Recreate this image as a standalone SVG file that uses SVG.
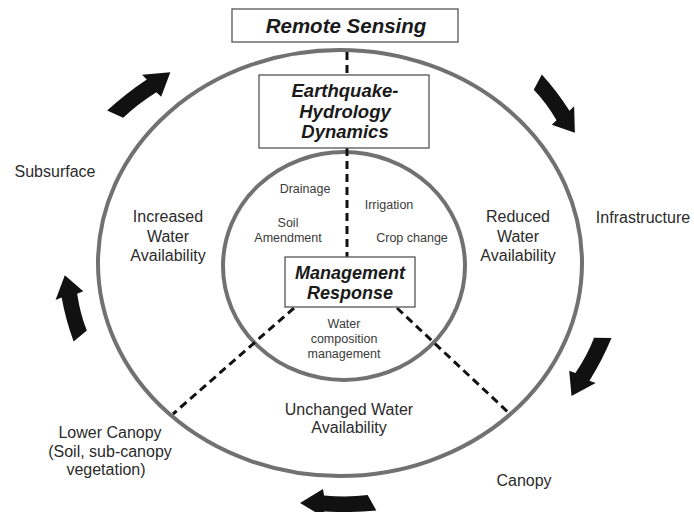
<svg xmlns="http://www.w3.org/2000/svg" width="694" height="512" viewBox="0 0 694 512">
  <defs>
    <style>
      .ring { fill: none; stroke: #717171; stroke-width: 4; }
      .box { fill: #ffffff; stroke: #555555; stroke-width: 1.3; }
      .title { font-family: "Liberation Sans", Arial, sans-serif; font-weight: bold; font-style: italic; fill: #1a1a1a; text-anchor: middle; }
      .lbl { font-family: "Liberation Sans", Arial, sans-serif; font-size: 16px; fill: #2b2b2b; text-anchor: middle; }
      .sm { font-family: "Liberation Sans", Arial, sans-serif; font-size: 12.5px; fill: #3a3a3a; text-anchor: middle; }
      .dash { stroke: #111111; stroke-width: 3; stroke-dasharray: 8 5; fill: none; }
      .arrow { fill: #111111; }
    </style>
    <path id="arw" d="M -4,-7.5 Q 20,-10 44,-8.5 L 43,-15 L 66,0 L 45,14 L 44,7.5 Q 22,5.5 4,8 Z"/>
  </defs>
  <rect width="694" height="512" fill="#ffffff"/>

  <g id="rings">
    <ellipse id="outer-ring" class="ring" cx="340" cy="263" rx="242" ry="213"/>
    <ellipse id="inner-ring" class="ring" cx="344" cy="266" rx="121" ry="114"/>
  </g>

  <g id="connectors">
    <line class="dash" x1="347" y1="52" x2="347" y2="75"/>
    <line class="dash" x1="347" y1="148" x2="347" y2="257"/>
    <line class="dash" x1="294" y1="308" x2="173" y2="414"/>
    <line class="dash" x1="397" y1="308" x2="510" y2="414"/>
  </g>

  <g id="remote-sensing">
    <rect class="box" x="232" y="9" width="226" height="33"/>
    <text class="title" x="346" y="33" font-size="20.5">Remote Sensing</text>
  </g>

  <g id="earthquake-hydrology-dynamics">
    <rect class="box" x="259" y="75" width="170" height="73"/>
    <text class="title" font-size="18.5"><tspan x="345" y="97">Earthquake-</tspan><tspan x="345" y="117.5">Hydrology</tspan><tspan x="345" y="138">Dynamics</tspan></text>
  </g>

  <g id="management-response">
    <rect class="box" x="285" y="257" width="130" height="50"/>
    <text class="title" font-size="18"><tspan x="350" y="279">Management</tspan><tspan x="350" y="298.5">Response</tspan></text>
  </g>

  <g id="increased-water">
    <text class="lbl"><tspan x="168" y="222">Increased</tspan><tspan x="168" y="242">Water</tspan><tspan x="168" y="261">Availability</tspan></text>
  </g>
  <g id="reduced-water">
    <text class="lbl"><tspan x="518" y="222">Reduced</tspan><tspan x="518" y="242">Water</tspan><tspan x="518" y="261">Availability</tspan></text>
  </g>
  <g id="unchanged-water">
    <text class="lbl"><tspan x="349" y="415">Unchanged Water</tspan><tspan x="349" y="433">Availability</tspan></text>
  </g>

  <g id="subsurface"><text class="lbl" x="55" y="177">Subsurface</text></g>
  <g id="infrastructure"><text class="lbl" x="643" y="223">Infrastructure</text></g>
  <g id="lower-canopy">
    <text class="lbl"><tspan x="110" y="438">Lower Canopy</tspan><tspan x="110" y="457">(Soil, sub-canopy</tspan><tspan x="106" y="475">vegetation)</tspan></text>
  </g>
  <g id="canopy"><text class="lbl" x="524" y="486">Canopy</text></g>

  <g id="management-options">
    <text class="sm" x="305" y="193">Drainage</text>
    <text class="sm"><tspan x="288" y="227">Soil</tspan><tspan x="288" y="242">Amendment</tspan></text>
    <text class="sm" x="389" y="209">Irrigation</text>
    <text class="sm" x="412" y="242">Crop change</text>
    <text class="sm"><tspan x="344" y="328">Water</tspan><tspan x="344" y="343">composition</tspan><tspan x="344" y="358">management</tspan></text>
  </g>

  <g id="cycle-arrows">
    <use href="#arw" class="arrow" transform="translate(115,114) rotate(-37) scale(1.05,1)"/>
    <use href="#arw" class="arrow" transform="translate(538,82) rotate(54) scale(0.95,1)"/>
    <use href="#arw" class="arrow" transform="translate(603,338) rotate(118.5)"/>
    <use href="#arw" class="arrow" transform="translate(372,503) rotate(180) scale(1.09,1)"/>
    <use href="#arw" class="arrow" transform="translate(80,336) rotate(-104) scale(0.95,1)"/>
  </g>
</svg>
